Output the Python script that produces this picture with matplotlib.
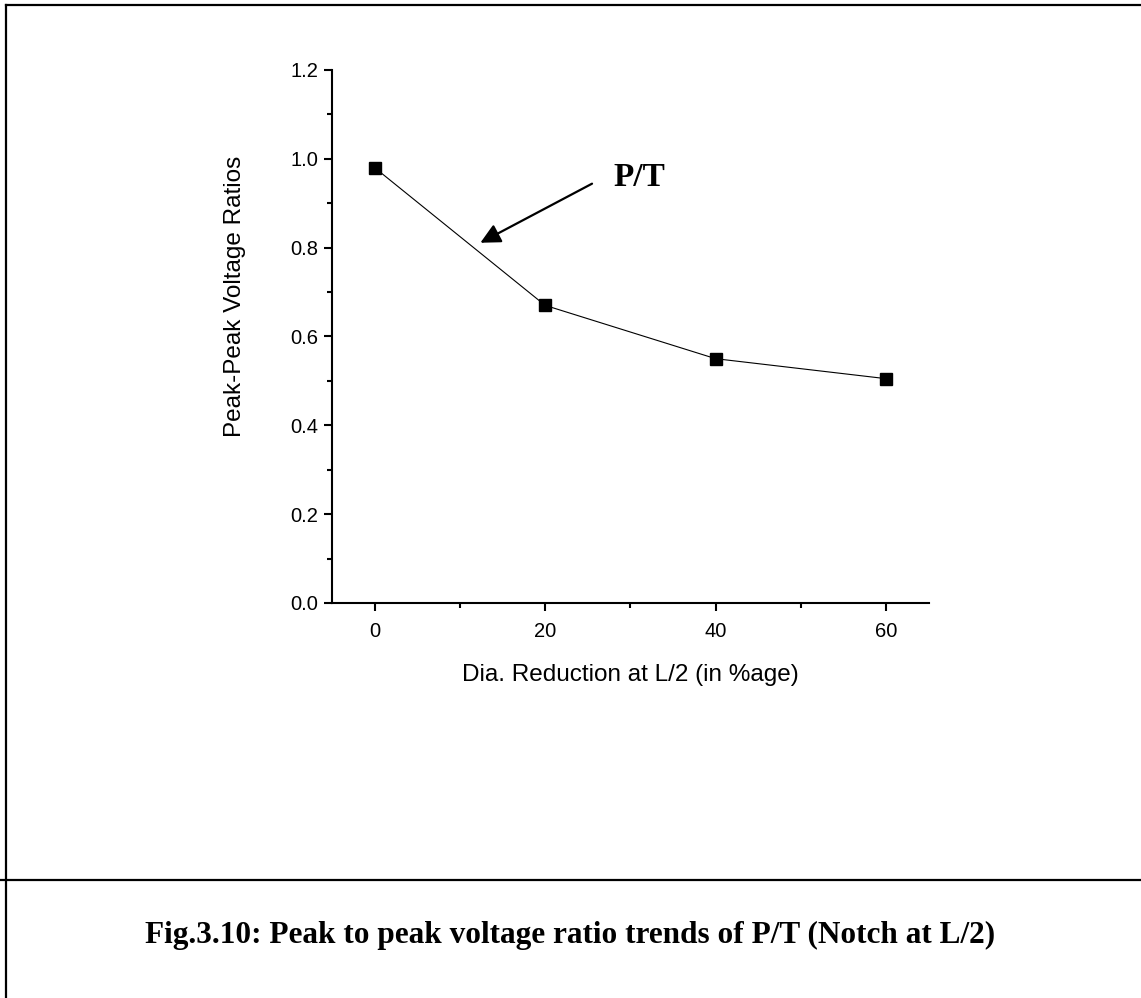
import matplotlib
matplotlib.use("Agg")
import matplotlib.pyplot as plt
from matplotlib.lines import Line2D
from matplotlib.ticker import MultipleLocator

# data: diameter reduction (%) vs peak-peak voltage ratio
dia_reduction = [0, 20, 40, 60]
pp_ratio = [0.98, 0.67, 0.55, 0.505]

x_ticks = [0, 20, 40, 60]
y_ticks = [0.0, 0.2, 0.4, 0.6, 0.8, 1.0, 1.2]

caption = "Fig.3.10: Peak to peak voltage ratio trends of P/T (Notch at L/2)"

plt.rcParams['font.family'] = ['Liberation Sans', 'DejaVu Sans']

fig = plt.figure(figsize=(11.41, 9.98), dpi=100)
ax = fig.add_axes([0.291, 0.3958, 0.523, 0.5341])

ax.plot(dia_reduction, pp_ratio, color='black', linewidth=0.8,
        marker='s', markersize=8.5, markerfacecolor='black',
        markeredgecolor='black')

ax.set_xlim(-5, 65)
ax.set_ylim(0, 1.2)
ax.set_xticks(x_ticks)
ax.set_yticks(y_ticks)
ax.set_yticklabels([f"{v:.1f}" for v in y_ticks])
ax.xaxis.set_minor_locator(MultipleLocator(10))
ax.yaxis.set_minor_locator(MultipleLocator(0.1))

for side in ['top', 'right']:
    ax.spines[side].set_visible(False)
for side in ['left', 'bottom']:
    ax.spines[side].set_linewidth(1.5)

ax.tick_params(axis='both', which='major', length=6, width=1.5,
               labelsize=14.5, direction='out')
ax.tick_params(axis='both', which='minor', length=3.5, width=1.5,
               direction='out')
ax.tick_params(axis='y', pad=4)
ax.tick_params(axis='x', pad=8)

ax.set_xlabel("Dia. Reduction at L/2 (in %age)", fontsize=17.5)
ax.set_ylabel("Peak-Peak Voltage Ratios", fontsize=17.5)
ax.xaxis.set_label_coords(0.5, -0.115)
ax.yaxis.set_label_coords(-0.145, 0.575)

# arrow pointing at the curve with its label
ax.annotate("", xy=(12.4, 0.811), xytext=(25.5, 0.944),
            arrowprops=dict(arrowstyle='-|>', color='black', lw=1.6,
                            mutation_scale=30, shrinkA=0, shrinkB=0))
ax.text(28.0, 0.958, "P/T", fontsize=24, fontweight='bold',
        family='Liberation Serif', va='center', ha='left')

# page frame and caption divider
fig.add_artist(Line2D([6 / 1141, 6 / 1141], [0, 1 - 5 / 998],
                      transform=fig.transFigure, color='black', linewidth=1.6))
fig.add_artist(Line2D([6 / 1141, 1], [1 - 5 / 998, 1 - 5 / 998],
                      transform=fig.transFigure, color='black', linewidth=1.6))
fig.add_artist(Line2D([0, 1], [1 - 880 / 998, 1 - 880 / 998],
                      transform=fig.transFigure, color='black', linewidth=1.6))

fig.text(0.5, 1 - 935 / 998, caption, fontsize=22.5, fontweight='bold',
         family='Liberation Serif', ha='center', va='center')

fig.savefig("out.png", dpi=100)
